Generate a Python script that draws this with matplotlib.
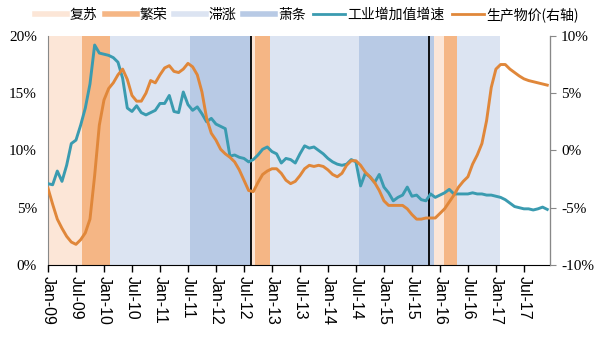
import matplotlib
matplotlib.use("Agg")
import matplotlib.pyplot as plt
from matplotlib.lines import Line2D
import numpy as np

# monthly series, Jan-09 .. Dec-17
iva = [7.1, 7.0, 8.2, 7.3, 8.7, 10.6, 10.9, 12.2, 13.7, 15.8, 19.2, 18.5,
       18.4, 18.3, 18.1, 17.7, 16.3, 13.7, 13.4, 13.9, 13.3, 13.1, 13.3, 13.5,
       14.1, 14.1, 14.8, 13.4, 13.3, 15.1, 14.0, 13.5, 13.8, 13.2, 12.5, 12.8,
       12.3, 12.1, 11.9, 9.5, 9.6, 9.4, 9.3, 9.0, 9.2, 9.6, 10.1, 10.3,
       9.9, 9.7, 8.9, 9.3, 9.2, 8.9, 9.7, 10.4, 10.2, 10.3, 10.0, 9.7,
       9.3, 9.0, 8.8, 8.7, 8.8, 9.2, 9.0, 6.9, 8.0, 7.7, 7.2, 7.9,
       6.8, 6.3, 5.6, 5.9, 6.1, 6.8, 6.0, 6.1, 5.7, 5.6, 6.2, 5.9,
       6.1, 6.3, 6.6, 6.2, 6.2, 6.2, 6.2, 6.3, 6.2, 6.2, 6.1, 6.1,
       6.0, 5.9, 5.7, 5.4, 5.1, 5.0, 4.9, 4.9, 4.8, 4.9, 5.05, 4.85]

ppi = [-3.3, -4.7, -6.0, -6.8, -7.5, -8.0, -8.2, -7.8, -7.2, -6.0, -2.2, 2.2,
       4.4, 5.4, 5.9, 6.6, 7.1, 6.2, 4.8, 4.3, 4.3, 5.0, 6.1, 5.9,
       6.6, 7.2, 7.4, 6.9, 6.8, 7.1, 7.6, 7.3, 6.6, 5.1, 2.8, 1.5,
       0.9, 0.1, -0.3, -0.6, -1.0, -1.7, -2.6, -3.5, -3.6, -2.8, -2.1, -1.8,
       -1.6, -1.6, -2.0, -2.6, -2.9, -2.7, -2.2, -1.6, -1.3, -1.4, -1.3, -1.4,
       -1.7, -2.1, -2.3, -2.0, -1.3, -0.9, -0.9, -1.3, -1.9, -2.3, -2.8, -3.5,
       -4.4, -4.8, -4.8, -4.8, -4.8, -5.1, -5.6, -6.0, -6.0, -5.9, -5.9, -5.9,
       -5.5, -5.1, -4.5, -3.9, -3.2, -2.7, -2.3, -1.2, -0.4, 0.6, 2.6, 5.5,
       7.1, 7.5, 7.5, 7.1, 6.8, 6.5, 6.25, 6.1, 6.0, 5.9, 5.8, 5.7]

# cycle phases (in month index units)
phase_start = [0, 7.3, 13.3, 30.4, 43.6, 44.4, 47.5, 66.7, 82.7, 84.8, 87.7]
phase_end = [7.3, 13.3, 30.4, 43.6, 44.4, 47.5, 66.7, 82.7, 84.8, 87.7, 96.8]
phase_kind = ["复苏", "繁荣", "滞涨", "萧条", "复苏", "繁荣", "滞涨", "萧条",
              "复苏", "繁荣", "滞涨"]
cycle_breaks = [43.6, 81.6]

tick_labels = ["Jan-09", "Jul-09", "Jan-10", "Jul-10", "Jan-11", "Jul-11",
               "Jan-12", "Jul-12", "Jan-13", "Jul-13", "Jan-14", "Jul-14",
               "Jan-15", "Jul-15", "Jan-16", "Jul-16", "Jan-17", "Jul-17"]

phase_colors = {"复苏": "#fce6d7", "繁荣": "#f5b685",
                "滞涨": "#dce4f2", "萧条": "#b8cae5"}
teal = "#3a9bb0"
orange = "#e0873a"

cjk = ["Noto Sans CJK SC", "DejaVu Sans"]
serif = "Liberation Serif"

fig = plt.figure(figsize=(6.02, 3.45), dpi=100)
ax = fig.add_axes([0.0797, 0.232, 0.834, 0.664])
ax2 = ax.twinx()

for s, e, k in zip(phase_start, phase_end, phase_kind):
    ax.axvspan(s, e, color=phase_colors[k], lw=0, zorder=0)
for b in cycle_breaks:
    ax.axvline(b, color="black", lw=1.3, zorder=3)

x = np.arange(len(iva))
ax.plot(x, iva, color=teal, lw=2.1, zorder=4)
ax2.plot(x, ppi, color=orange, lw=2.1, zorder=5)

ax.set_xlim(0, 107.6)
ax.set_ylim(0, 20)
ax2.set_ylim(-10, 10)

ax.set_xticks(np.arange(0, 108, 6))
ax.set_xticklabels(tick_labels, rotation=270, fontsize=11.5,
                   family="Liberation Sans")
ax.tick_params(axis="x", length=5, width=1, color="black", pad=3)

ax.set_yticks([0, 5, 10, 15, 20])
ax.set_yticklabels(["0%", "5%", "10%", "15%", "20%"], family=serif,
                   fontsize=11)
ax.tick_params(axis="y", length=0, pad=8)

ax2.set_yticks([-10, -5, 0, 5, 10])
ax2.set_yticklabels(["-10%", "-5%", "0%", "5%", "10%"], family=serif,
                    fontsize=11)
ax2.tick_params(axis="y", length=4, color="#888888", pad=4)

for a in (ax, ax2):
    a.spines["top"].set_visible(False)
ax.spines["left"].set_color("#888888")
ax2.spines["left"].set_visible(False)
ax2.spines["right"].set_color("#888888")
ax.spines["bottom"].set_color("black")
ax.spines["bottom"].set_zorder(6)
ax2.spines["bottom"].set_visible(False)

handles = [Line2D([], [], color=phase_colors[k], lw=4)
           for k in ["复苏", "繁荣", "滞涨", "萧条"]]
handles += [Line2D([], [], color=teal, lw=2), Line2D([], [], color=orange, lw=2)]
labels = ["复苏", "繁荣", "滞涨", "萧条", "工业增加值增速", "生产物价(右轴)"]
fig.legend(handles, labels, loc="center", bbox_to_anchor=(0.51, 0.957),
           ncol=6, frameon=False, prop={"family": cjk, "size": 10},
           handlelength=2.3, handletextpad=0.2, columnspacing=0.5)

fig.savefig("out.png", dpi=100)
